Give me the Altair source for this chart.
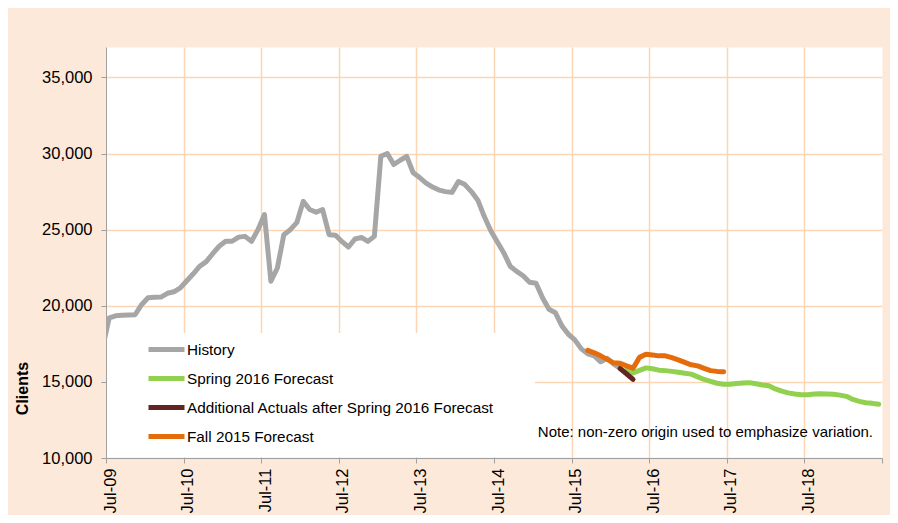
import altair as alt
import pandas as pd

# ---- data (monthly) ----
series_names = [
    "History",
    "Spring 2016 Forecast",
    "Additional Actuals after Spring 2016 Forecast",
    "Fall 2015 Forecast",
]
series_colors = ["#A6A6A6", "#92D050", "#632523", "#E46C0A"]

history_start = "Jun-09"
history_values = [
    17300, 19210, 19340, 19375, 19390, 19410, 20070, 20530, 20560, 20570,
    20820, 20920, 21180, 21640, 22100, 22600, 22900, 23420, 23910, 24240,
    24240, 24510, 24560, 24230, 25000, 25990, 21610, 22480, 24670, 25000,
    25460, 26860, 26320, 26140, 26320, 24670, 24630, 24210, 23860, 24390,
    24490, 24230, 24560, 29820, 30000, 29280, 29560, 29820, 28740, 28420,
    28060, 27800, 27600, 27500, 27450, 28160, 27960, 27500, 26940, 25860,
    24930, 24210, 23490, 22600, 22260, 21970, 21550, 21480, 20530, 19770,
    19540, 18680, 18130, 17760, 17170, 16840, 16710, 16320, 16550, 16180,
    15880,
]

spring_start = "Mar-16"
spring_values = [
    15790, 15590, 15760, 15920, 15860, 15770, 15740, 15690, 15630, 15570,
    15510, 15330, 15160, 15030, 14910, 14850, 14850, 14900, 14930, 14950,
    14880, 14800, 14740, 14540, 14390, 14280, 14210, 14160, 14150, 14210,
    14220, 14210, 14190, 14130, 14050, 13850, 13720, 13630, 13590, 13530,
]

additional_start = "Feb-16"
additional_values = [15880, 15530, 15160]

fall_start = "Sep-15"
fall_values = [
    17070, 16910, 16710, 16480, 16250, 16220, 16050, 15900, 16610, 16810,
    16760, 16710, 16710, 16590, 16450, 16280, 16120, 16050, 15890, 15740,
    15690, 15660,
]

x_tick_months = list(range(0, 121, 12))   # Jul-09 ... Jul-19
y_ticks = [10000, 15000, 20000, 25000, 30000, 35000]
y_domain = [10000, 37000]
note_text = "Note: non-zero origin used to emphasize variation."

MONTHS = ["Jan", "Feb", "Mar", "Apr", "May", "Jun",
          "Jul", "Aug", "Sep", "Oct", "Nov", "Dec"]


def month_index(label):
    mon, yy = label.split("-")
    return (2000 + int(yy) - 2009) * 12 + MONTHS.index(mon) - 6


rows = []
for name, start, vals in [
    (series_names[0], history_start, history_values),
    (series_names[1], spring_start, spring_values),
    (series_names[2], additional_start, additional_values),
    (series_names[3], fall_start, fall_values),
]:
    k0 = month_index(start)
    for i, v in enumerate(vals):
        rows.append({"series": name, "m": k0 + i + 0.5, "clients": v})
df = pd.DataFrame(rows)

FONT = "Liberation Sans"
GRID = "#FCD5B4"
AXIS = "#A0A0A0"

color_scale = alt.Scale(domain=series_names, range=series_colors)

x_enc = alt.X(
    "m:Q",
    scale=alt.Scale(domain=[0, 120], nice=False, zero=False),
    axis=alt.Axis(
        values=x_tick_months,
        labelExpr="datum.value >= 120 ? '' : 'Jul-' + format(9 + datum.value / 12, '02d')",
        labelAngle=270,
        labelBaseline="alphabetic",
        labelAlign="right",
        labelOffset=9,
        labelPadding=5,
        labelFontSize=16.5,
        labelFont=FONT,
        labelColor="black",
        tickSize=5,
        tickColor=AXIS,
        domainColor=AXIS,
        gridColor={"condition": {"test": "datum.value >= 120 || datum.value <= 0",
                                 "value": "transparent"}, "value": GRID},
        gridWidth=1.5,
        title=None,
    ),
)
y_enc = alt.Y(
    "clients:Q",
    scale=alt.Scale(domain=y_domain, nice=False, zero=False),
    axis=alt.Axis(
        values=y_ticks,
        format=",d",
        labelFontSize=16.5,
        labelFont=FONT,
        labelColor="black",
        labelPadding=9,
        tickSize=5,
        tickColor=AXIS,
        domainColor=AXIS,
        gridColor=GRID,
        gridWidth=1.5,
        title="Clients",
        titleFont=FONT,
        titleFontSize=16,
        titleFontWeight="bold",
        titleColor="black",
        titleAngle=270,
        titleAlign="center",
        titleBaseline="alphabetic",
        titleX=-79,
        titleY=341,
    ),
)

legend_box = alt.Chart(pd.DataFrame({"a": [0]})).mark_rect(color="white").encode(
    x=alt.value(1), x2=alt.value(429), y=alt.value(286), y2=alt.value(410)
)

layers = [legend_box]
for i, name in enumerate(series_names):
    if i == 0:
        color = alt.Color(
            "series:N",
            scale=color_scale,
            legend=alt.Legend(
                title=None,
                orient="none",
                legendX=40,
                legendY=295,
                symbolType="stroke",
                symbolStrokeWidth=5,
                symbolSize=1296,
                labelFontSize=15.3,
                labelFont=FONT,
                labelColor="black",
                labelLimit=500,
                labelOffset=0,
                clipHeight=15,
                rowPadding=13,
                padding=0,
            ),
        )
    else:
        color = alt.Color("series:N", scale=color_scale, legend=None)
    layers.append(
        alt.Chart(df).transform_filter(alt.datum.series == name)
        .mark_line(strokeWidth=5, strokeCap="round", strokeJoin="round", clip=True)
        .encode(x=x_enc, y=y_enc, color=color)
    )

note = alt.Chart(pd.DataFrame({"note": [note_text]})).mark_text(
    align="right", baseline="alphabetic", font=FONT, fontSize=15, color="black"
).encode(text="note:N", x=alt.value(767), y=alt.value(390))
layers.append(note)

chart = alt.layer(*layers).properties(
    width=776,
    height=411,
    autosize=alt.AutoSizeParams(type="none"),
    padding={"left": 98, "top": 39, "right": 8, "bottom": 57},
).configure(
    background="#FDE9D9",
).configure_view(
    fill="white",
    stroke="transparent",
)

chart.save("out.html", embed_options={"renderer": "svg", "actions": False})
